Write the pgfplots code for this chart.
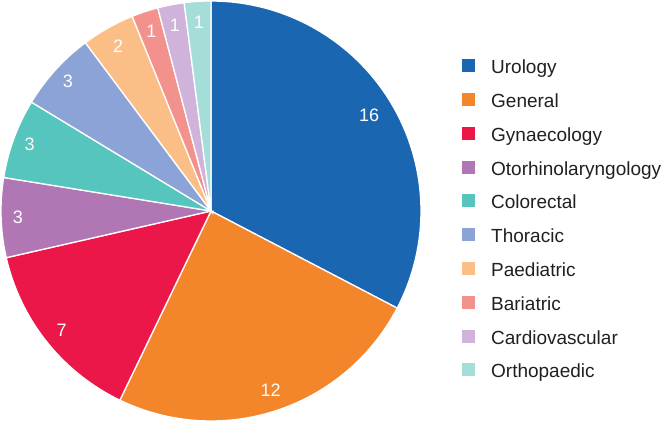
\documentclass[border=0pt]{standalone}
\usepackage{pgfplots}
\pgfplotsset{compat=1.18}
\usepackage{fontspec}
\setmainfont{Liberation Sans}
\definecolor{cUro}{HTML}{1B66B1}
\definecolor{cGen}{HTML}{F3862A}
\definecolor{cGyn}{HTML}{EB1748}
\definecolor{cOto}{HTML}{B077B4}
\definecolor{cCol}{HTML}{56C5BD}
\definecolor{cTho}{HTML}{8CA3D7}
\definecolor{cPae}{HTML}{FCBE87}
\definecolor{cBar}{HTML}{F3918C}
\definecolor{cCar}{HTML}{D0B3DA}
\definecolor{cOrt}{HTML}{A5DED8}
\definecolor{textgray}{HTML}{231F20}
\begin{document}
\begin{tikzpicture}[x=1pt,y=1pt]
\useasboundingbox (0,0) rectangle (666,422);
\begin{axis}[at={(1pt,1pt)}, anchor=south west, width=420pt, height=420pt, scale only axis, hide axis,
 xmin=-1,xmax=1,ymin=-1,ymax=1, clip=false,
 legend style={at={(axis cs:1.195,0.724)}, anchor=north west, draw=none, fill=none,
   font=\fontsize{19}{22}\selectfont, text=textgray, row sep=15.3pt, inner sep=0pt,
   nodes={inner sep=0pt, text height=14pt, text depth=4pt},
   /tikz/every odd column/.append style={column sep=16pt}},
 legend cell align=left,
 legend image code/.code={\fill[#1, draw=none] (0pt,-3.5pt) rectangle (13pt,9.5pt);},
 every axis plot/.append style={draw=white, line width=1.3pt, samples=90},
]
% values: Urology 16, General 12, Gynaecology 7, Otorhinolaryngology 3, Colorectal 3,
% Thoracic 3, Paediatric 2, Bariatric 1, Cardiovascular 1, Orthopaedic 1 (total 49)
\addplot[fill=cUro, domain=-27.551:90] ({cos(x)},{sin(x)}) -- (axis cs:0,0) -- cycle;
\addlegendentry{Urology}
\addplot[fill=cGen, domain=-115.714:-27.551] ({cos(x)},{sin(x)}) -- (axis cs:0,0) -- cycle;
\addlegendentry{General}
\addplot[fill=cGyn, domain=-167.143:-115.714] ({cos(x)},{sin(x)}) -- (axis cs:0,0) -- cycle;
\addlegendentry{Gynaecology}
\addplot[fill=cOto, domain=-189.184:-167.143] ({cos(x)},{sin(x)}) -- (axis cs:0,0) -- cycle;
\addlegendentry{Otorhinolaryngology}
\addplot[fill=cCol, domain=-211.224:-189.184] ({cos(x)},{sin(x)}) -- (axis cs:0,0) -- cycle;
\addlegendentry{Colorectal}
\addplot[fill=cTho, domain=-233.265:-211.224] ({cos(x)},{sin(x)}) -- (axis cs:0,0) -- cycle;
\addlegendentry{Thoracic}
\addplot[fill=cPae, domain=-247.959:-233.265] ({cos(x)},{sin(x)}) -- (axis cs:0,0) -- cycle;
\addlegendentry{Paediatric}
\addplot[fill=cBar, domain=-255.306:-247.959] ({cos(x)},{sin(x)}) -- (axis cs:0,0) -- cycle;
\addlegendentry{Bariatric}
\addplot[fill=cCar, domain=-262.653:-255.306] ({cos(x)},{sin(x)}) -- (axis cs:0,0) -- cycle;
\addlegendentry{Cardiovascular}
\addplot[fill=cOrt, domain=-270:-262.653] ({cos(x)},{sin(x)}) -- (axis cs:0,0) -- cycle;
\addlegendentry{Orthopaedic}
\tikzset{lab/.style={text=white, font=\fontsize{18}{21}\selectfont, inner sep=0pt}}
\node[lab] at (axis cs:{0.88*cos(31.22)},{0.88*sin(31.22)}) {16};
\node[lab] at (axis cs:{0.9*cos(-71.63)},{0.9*sin(-71.63)}) {12};
\node[lab] at (axis cs:{0.91*cos(-141.43)},{0.91*sin(-141.43)}) {7};
\node[lab] at (axis cs:{0.92*cos(-178.16)},{0.92*sin(-178.16)}) {3};
\node[lab] at (axis cs:{0.92*cos(-200.2)},{0.92*sin(-200.2)}) {3};
\node[lab] at (axis cs:{0.92*cos(-222.24)},{0.92*sin(-222.24)}) {3};
\node[lab] at (axis cs:{0.9*cos(-240.61)},{0.9*sin(-240.61)}) {2};
\node[lab] at (axis cs:{0.9*cos(-251.63)},{0.9*sin(-251.63)}) {1};
\node[lab] at (axis cs:{0.9*cos(-258.98)},{0.9*sin(-258.98)}) {1};
\node[lab] at (axis cs:{0.9*cos(-266.33)},{0.9*sin(-266.33)}) {1};
\end{axis}
\end{tikzpicture}
\end{document}
